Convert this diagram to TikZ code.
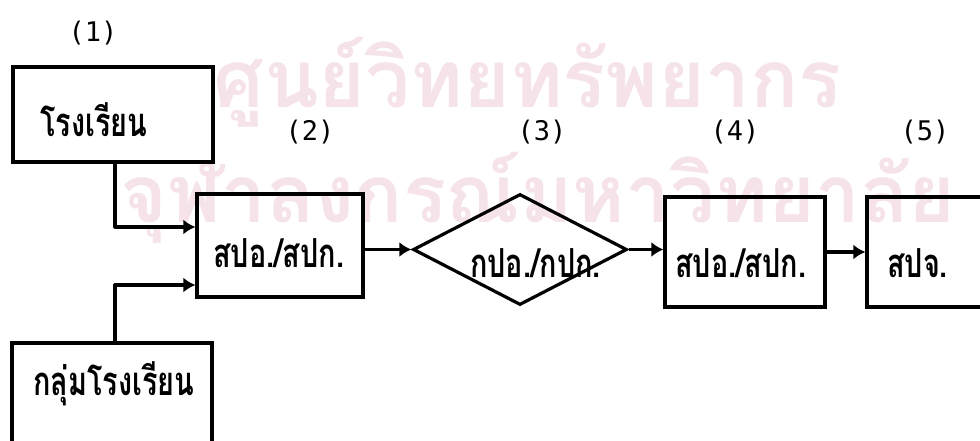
\documentclass[tikz,border=0pt]{standalone}
\usepackage{fontspec}
\newfontfamily\thai[Script=Thai,FakeStretch=0.72]{Loma}
\newfontfamily\thaiwm[Script=Thai]{Loma}
\newfontfamily\numfont{DejaVu Sans Mono}
\usetikzlibrary{arrows.meta,shapes.geometric}
\definecolor{wm}{HTML}{F6E3EA}
\begin{document}
\begin{tikzpicture}[x=1pt,y=-1pt,
  box/.style={draw, line width=3.2pt, inner sep=0pt},
  lbl/.style={font=\thai\bfseries\fontsize{40}{40}\selectfont, anchor=base west, inner sep=0pt},
  num/.style={font=\numfont\fontsize{27}{27}\selectfont, inner sep=0pt},
  wmtext/.style={font=\thaiwm\bfseries\fontsize{80}{80}\selectfont, text=wm, anchor=base west, inner sep=0pt},
  arr/.style={line width=3.2pt, line join=round, -{Latex[length=12pt,width=15pt]}}]
\useasboundingbox (0,0) rectangle (980,441);
\clip (0,0) rectangle (980,441);
\fill[white] (0,0) rectangle (980,441);
% watermark
\node[wmtext] (wm1) at (213,108) {ศูนย์วิทยทรัพยากร};
\node[wmtext] (wm2) at (120,222) {จุฬาลงกรณ์มหาวิทยาลัย};
% boxes
\node[box, minimum width=200pt, minimum height=95pt] (b1) at (113,114.5) {};
\node[box, minimum width=166pt, minimum height=103pt] (b2) at (280,245.5) {};
\node[box, shape=diamond, minimum width=214pt, minimum height=111pt] (dia) at (520,249.5) {};
\node[box, minimum width=160pt, minimum height=110pt] (b4) at (745,252) {};
\node[box, minimum width=143pt, minimum height=110pt] (b5) at (938.5,252) {};
\node[box, minimum width=200pt, minimum height=112pt] (b3) at (112,399) {};
% texts
\node[lbl] (t1) at (40,137) {โรงเรียน};
\node[lbl] (t3) at (33,395) {กลุ่มโรงเรียน};
\node[lbl] (t2) at (213,267) {สปอ./สปก.};
\node[lbl] (td) at (470,277) {กปอ./กปก.};
\node[lbl] (t4) at (675,277) {สปอ./สปก.};
\node[lbl] (t5) at (887,277) {สปจ.};
% numbers
\node[num] (n1) at (93,33) {(1)};
\node[num] (n2) at (310,132) {(2)};
\node[num] (n3) at (542,132) {(3)};
\node[num] (n4) at (735,132) {(4)};
\node[num] (n5) at (925,132) {(5)};
% connectors
\coordinate (j1) at (115,227);
\coordinate (j2) at (115,285);
\draw[arr] (b1.south -| j1) -- (j1) -- (b2.west |- j1);
\draw[arr] (b3.north -| j2) -- (j2) -- (b2.west |- j2);
\draw[arr] (b2.east |- dia.west) -- (dia.west);
\draw[arr] (dia.east) -- (b4.west |- dia.east);
\draw[arr] (b4.east |- b5.west) -- (b5.west);
\end{tikzpicture}
\end{document}
